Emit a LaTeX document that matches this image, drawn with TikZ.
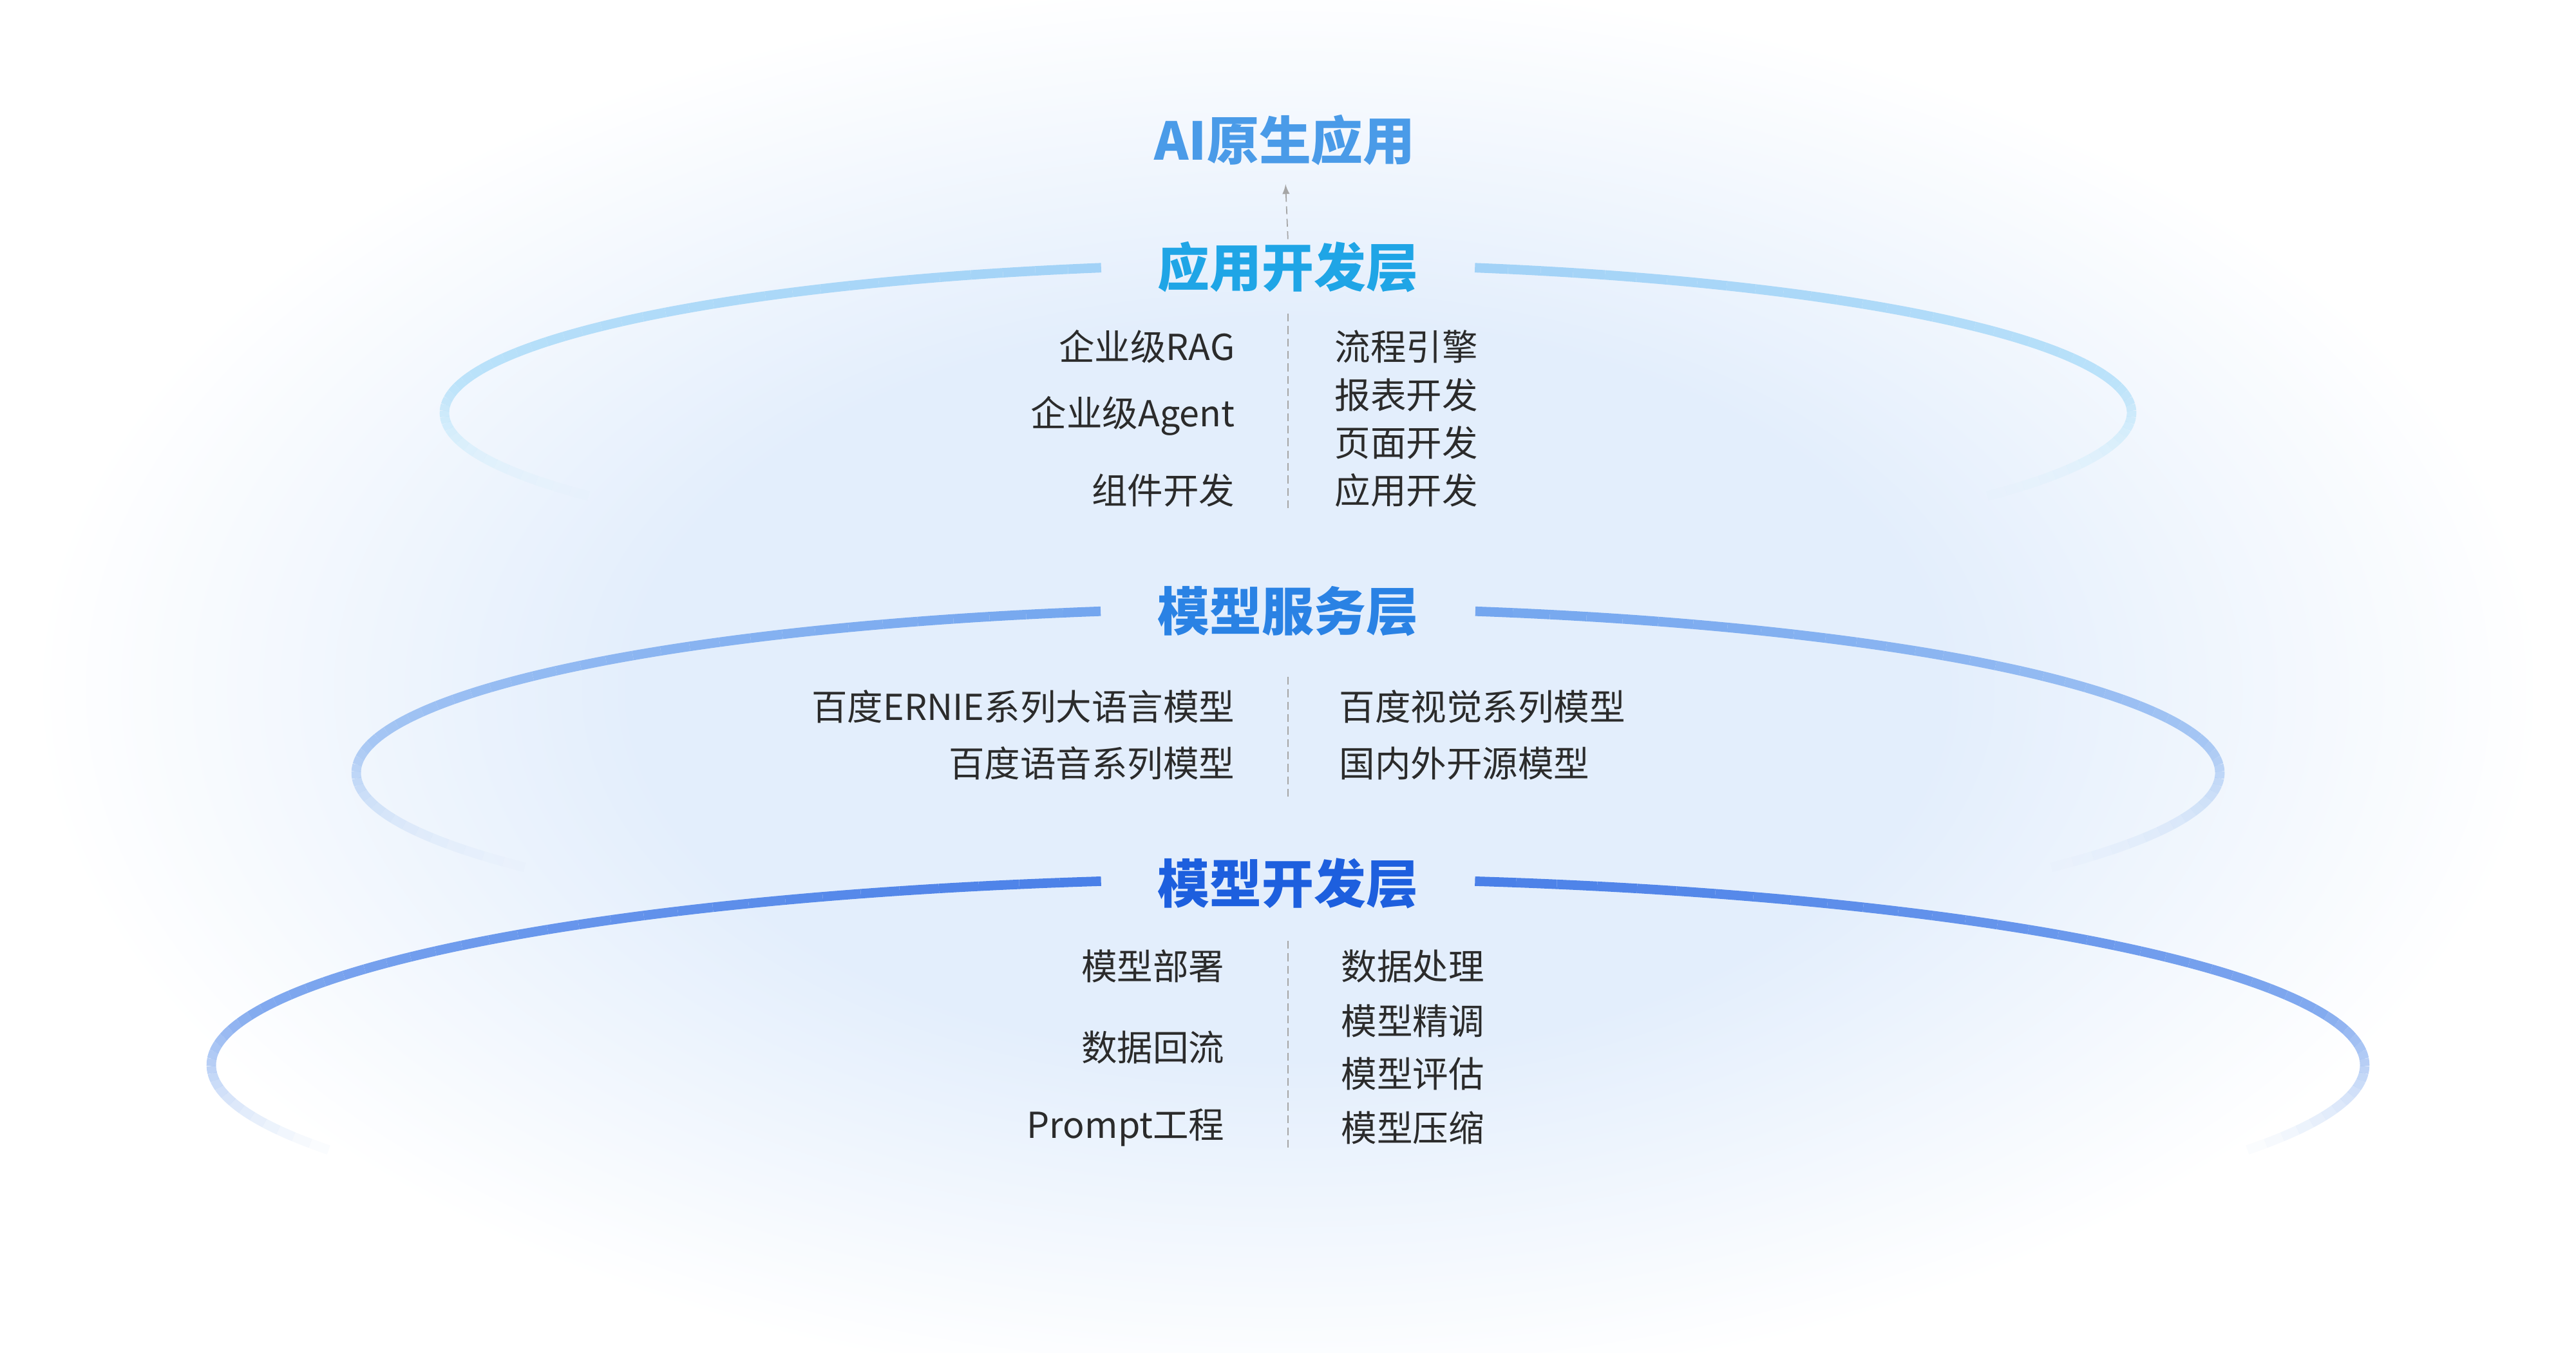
\documentclass[tikz,border=0pt]{standalone}
\usepackage{fontspec}
\setmainfont{Noto Sans CJK SC}
\usetikzlibrary{fadings}

\definecolor{glowblue}{HTML}{E3EEFC}
\definecolor{colblue}{HTML}{D6E5FA}
\definecolor{txtgray}{HTML}{2B2B2B}
\definecolor{aiblue}{HTML}{4A9BE8}
\definecolor{appblue}{HTML}{1FA5E6}
\definecolor{srvblue}{HTML}{2A82E4}
\definecolor{devblue}{HTML}{1D5FDE}
\definecolor{ringa}{HTML}{A2D2F7}
\definecolor{ringb}{HTML}{CDEEFC}
\definecolor{ringc}{HTML}{74A6EF}
\definecolor{ringd}{HTML}{C6DBF7}
\definecolor{ringe}{HTML}{4A80E8}
\definecolor{ringf}{HTML}{A9C7F4}

\pgfdeclareradialshading{glow}{\pgfpoint{0bp}{0bp}}{color(0bp)=(glowblue); color(13bp)=(glowblue); color(25bp)=(white); color(50bp)=(white)}
\tikzfading[name=fade ends, top color=transparent!100, middle color=transparent!0, bottom color=transparent!100]

\begin{document}
\begin{tikzpicture}[>=latex,
	layer/.style={font=\fontsize{23}{26}\selectfont\bfseries, inner sep=0pt},
	item/.style={font=\fontsize{15.8}{18}\selectfont, text=txtgray, inner sep=0pt},
	ring/.style={line width=4.2pt},
	divide/.style={gray!70, line width=0.5pt, dash pattern=on 3.5pt off 2pt}]
	\fill[white] (0,0) rectangle (40,21);
	\useasboundingbox (0,0) rectangle (40,21);
	
	\begin{scope}
		\shade[shading=glow] (20,10.3) ellipse (19.5 and 11);
		\fill[colblue, path fading=fade ends] (9.3,21) .. controls (12.4,15) and (12.4,8) .. (8,0) -- (32,0) .. controls (27.6,8) and (27.6,15) .. (30.7,21) -- cycle;
	\end{scope}
	
	% rings, fading towards the front
	\foreach \cy/\rx/\ry/\s/\e/\ca/\cb in {14.59/13.1/2.31/102.8/214/ringa/ringb, 9.0/14.47/2.56/101.6/215/ringc/ringd, 4.46/16.72/2.9/100/207/ringe/ringf}
		\foreach \i in {0,...,47} {
			\pgfmathsetmacro\a{\s+(\e-\s)*\i/48}
			\pgfmathsetmacro\b{\s+(\e-\s)*(\i+1)/48}
			\pgfmathtruncatemacro\m{100-100*\i/47}
			\pgfmathsetmacro\o{min(1,(48-\i)/20)}
			\draw[ring, color=\ca!\m!\cb, draw opacity=\o] (20,\cy) ++(\a:\rx cm and \ry cm) arc[start angle=\a, end angle=\b, x radius=\rx cm, y radius=\ry cm];
			\draw[ring, color=\ca!\m!\cb, draw opacity=\o] (20,\cy) ++(180-\a:\rx cm and \ry cm) arc[start angle=180-\a, end angle=180-\b, x radius=\rx cm, y radius=\ry cm];
		}
	
	\node[layer, text=aiblue] (ai) at (19.95,18.82) {AI原生应用};
	\node[layer, text=appblue] (app) at (20,16.85) {应用开发层};
	\node[layer, text=srvblue] (srv) at (20,11.51) {模型服务层};
	\node[layer, text=devblue] (dev) at (20,7.28) {模型开发层};
	\draw[divide,->,shorten >=8pt,shorten <=1pt] (app.north) -- (ai.south);
	
	\begin{scope}
		\node[item, anchor=east] (rag) at (19.18,15.62) {企业级RAG};
		\node[item, anchor=east] (agent) at (19.18,14.54) {企业级Agent};
		\node[item, anchor=east] (comp) at (19.18,13.39) {组件开发};
		\node[item, anchor=west] (flow) at (20.72,15.62) {流程引擎};
		\node[item, anchor=west] (report) at (20.72,14.87) {报表开发};
		\node[item, anchor=west] (page) at (20.72,14.13) {页面开发};
		\node[item, anchor=west] (appdev) at (20.72,13.39) {应用开发};
		\coordinate (d1a) at (20,16.13);
		\coordinate (d1b) at (20,13.05);
		\draw[divide] (d1a) -- (d1b);
	\end{scope}
	
	\begin{scope}
		\node[item, anchor=east] (ernie) at (19.18,10.03) {百度ERNIE系列大语言模型};
		\node[item, anchor=east] (voice) at (19.18,9.15) {百度语音系列模型};
		\node[item, anchor=west] (vision) at (20.79,10.03) {百度视觉系列模型};
		\node[item, anchor=west] (open) at (20.79,9.15) {国内外开源模型};
		\coordinate (d2a) at (20,10.49);
		\coordinate (d2b) at (20,8.56);
		\draw[divide] (d2a) -- (d2b);
	\end{scope}
	
	\begin{scope}
		\node[item, anchor=east] (deploy) at (19.02,6.0) {模型部署};
		\node[item, anchor=east] (backflow) at (19.02,4.74) {数据回流};
		\node[item, anchor=east] (prompt) at (19.02,3.49) {Prompt工程};
		\node[item, anchor=west] (data) at (20.82,6.0) {数据处理};
		\node[item, anchor=west] (tune) at (20.82,5.15) {模型精调};
		\node[item, anchor=west] (eval) at (20.82,4.33) {模型评估};
		\node[item, anchor=west] (compress) at (20.82,3.49) {模型压缩};
		\coordinate (d3a) at (20,6.39);
		\coordinate (d3b) at (20,3.18);
		\draw[divide] (d3a) -- (d3b);
	\end{scope}
\end{tikzpicture}
\end{document}
